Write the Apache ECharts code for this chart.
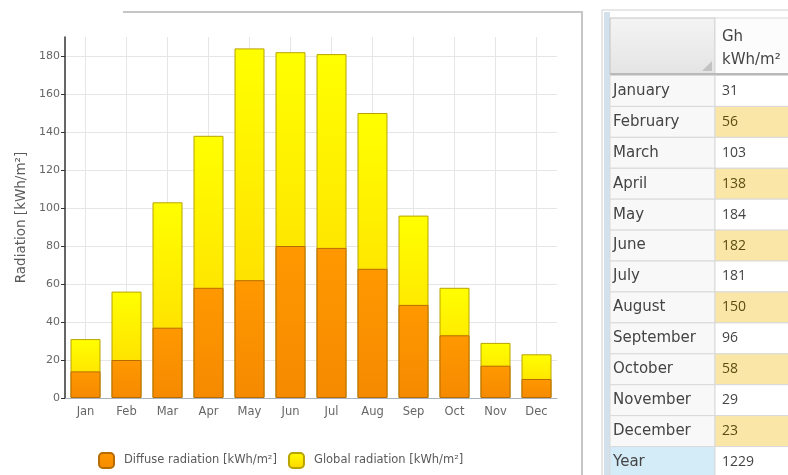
<!DOCTYPE html>
<html>
<head>
<meta charset="utf-8">
<script src="https://cdn.jsdelivr.net/npm/echarts@6/dist/echarts.min.js"></script>
<style>
html,body{margin:0;padding:0;background:#fff;}
#c{width:788px;height:475px;}
</style>
</head>
<body>
<div id="c"></div>
<script>
// ---- data ----
const months = ['Jan','Feb','Mar','Apr','May','Jun','Jul','Aug','Sep','Oct','Nov','Dec'];
const globalRad = [31,56,103,138,184,182,181,150,96,58,29,23];
const diffuseRad = [14,20,37,58,62,80,79,68,49,33,17,10];
const yTicks = [0,20,40,60,80,100,120,140,160,180];
const tableRows = ['January','February','March','April','May','June','July','August','September','October','November','December','Year'];
const ghValues = [31,56,103,138,184,182,181,150,96,58,29,23,1229];
const tableColumns = ['', 'Gh'];
const seriesNames = ['Diffuse radiation [kWh/m\u00b2]','Global radiation [kWh/m\u00b2]'];

const chart = echarts.init(document.getElementById('c'), null, {renderer:'canvas'});

const FONT = 'DejaVu Sans';
const NUMFONT = 'Open Sans';
const tableData = [];
tableRows.forEach((r,i)=>{ tableData.push([0,i]); });
ghValues.forEach((v,i)=>{ tableData.push([1,i]); });

function cellText(idx){
  const n = tableRows.length;
  return idx < n ? tableRows[idx] : String(ghValues[idx-n]);
}

const option = {
  animation:false,
  backgroundColor:'#fff',
  textStyle:{fontFamily:FONT},
  legend:{
    data:seriesNames,
    left:93, top:447,
    itemWidth:15, itemHeight:15, itemGap:11,
    icon:'roundRect',
    textStyle:{color:'#5a5a5a', fontSize:11.5, fontFamily:FONT, padding:[0,0,0,5]}
  },
  grid:[
    {left:65, top:37, width:492, height:361, outerBoundsMode:'none'},
    {left:610, top:75.5, width:210, height:402, outerBoundsMode:'none'}
  ],
  xAxis:[
    {
      type:'category', data:months, gridIndex:0,
      axisLine:{lineStyle:{color:'#a9b3bf'}},
      axisTick:{alignWithLabel:true, length:3, lineStyle:{color:'#a9b3bf'}},
      axisLabel:{color:'#666', fontSize:11.5, margin:8, fontFamily:FONT},
      splitLine:{show:true, alignWithLabel:true, lineStyle:{color:'#e6e6e6'}}
    },
    {type:'category', data:tableColumns, gridIndex:1, show:false}
  ],
  yAxis:[
    {
      type:'value', min:0, max:190, interval:20, gridIndex:0,
      name:'Radiation [kWh/m\u00b2]', nameLocation:'middle', nameGap:30,
      nameTextStyle:{color:'#5a5a5a', fontSize:13.5, fontFamily:FONT},
      axisLine:{show:true, lineStyle:{color:'#333', width:1.5}},
      axisTick:{show:true, length:4, lineStyle:{color:'#333'}},
      axisLabel:{color:'#666', fontSize:11, showMaxLabel:false, margin:5, fontFamily:FONT},
      splitLine:{show:true, showMaxLine:false, lineStyle:{color:'#e6e6e6'}}
    },
    {type:'category', data:tableRows, gridIndex:1, inverse:true, show:false}
  ],
  series:[
    {
      name:seriesNames[1], type:'bar', data:globalRad, barWidth:30, barGap:'-100%',
      itemStyle:{
        color:new echarts.graphic.LinearGradient(0,0,0,1,[{offset:0,color:'#ffff00'},{offset:1,color:'#ffd400'}]),
        borderColor:'#b8a400', borderWidth:1
      }
    },
    {
      name:seriesNames[0], type:'bar', data:diffuseRad, barWidth:30, barGap:'-100%',
      itemStyle:{
        color:new echarts.graphic.LinearGradient(0,0,0,1,[{offset:0,color:'#ff9800'},{offset:1,color:'#f58a00'}]),
        borderColor:'#b86c00', borderWidth:1
      }
    },
    {
      type:'custom', xAxisIndex:1, yAxisIndex:1, data:tableData, silent:true, clip:false,
      renderItem:function(params, api){
        const col = api.value(0), row = api.value(1);
        const c = api.coord([col,row]);
        const s = api.size([1,1]);
        const x = c[0]-s[0]/2, y = c[1]-s[1]/2, w = s[0], h = s[1];
        const isYear = row === tableRows.length-1;
        let fill;
        if(col===0){ fill = isYear ? '#d4ebf8' : '#f8f8f8'; }
        else { fill = (row%2===1) ? '#fae7a8' : '#ffffff'; }
        const txtColor = (col===1 && row%2===1) ? '#5c4c12' : '#444';
        const font = col===0 ? ('15px "'+FONT+'"') : ('14px "'+NUMFONT+'"');
        return {
          type:'group',
          children:[
            {type:'rect', shape:{x:x,y:y,width:w,height:h}, style:{fill:fill, stroke:'#d9d9d9', lineWidth:1}},
            {type:'text', style:{
              x: x + (col===0?3:7), y: y+h/2,
              text: cellText(params.dataIndex),
              fill: txtColor, font: font,
              verticalAlign:'middle', align:'left'
            }}
          ]
        };
      }
    }
  ],
  graphic:[
    // chart panel frame
    {type:'polyline', shape:{points:[[123,12],[582,12],[582,475]]}, style:{stroke:'#c6c6c6', lineWidth:2, fill:null}, z:-1},
    // table frame
    {type:'rect', shape:{x:602,y:10,width:200,height:470}, style:{fill:'none', stroke:'#cfcfcf', lineWidth:1}, z:-1},
    {type:'rect', shape:{x:604,y:12,width:6,height:463}, style:{fill:'#d3e1ec'}, z:-1},
    // header cells
    {type:'rect', shape:{x:610,y:18,width:105,height:56},
      style:{fill:new echarts.graphic.LinearGradient(0,0,0,1,[{offset:0,color:'#f4f4f4'},{offset:1,color:'#e4e4e4'}]), stroke:'#c4c4c4', lineWidth:1}},
    {type:'polygon', shape:{points:[[712,61],[712,71],[702,71]]}, style:{fill:'#c2c2c2'}},
    {type:'rect', shape:{x:715,y:18,width:100,height:56}, style:{fill:'#fcfcfc', stroke:'#d9d9d9', lineWidth:1}},
    {type:'line', shape:{x1:610,y1:74,x2:800,y2:74}, style:{stroke:'#b9b9b9', lineWidth:2}},
    {type:'text', style:{x:722, y:37, text:'Gh', fill:'#444', font:'15px "'+FONT+'"', verticalAlign:'middle'}},
    {type:'text', style:{x:722, y:60, text:'kWh/m\u00b2', fill:'#444', font:'15px "'+FONT+'"', verticalAlign:'middle'}}
  ]
};
chart.setOption(option);
</script>
</body>
</html>
